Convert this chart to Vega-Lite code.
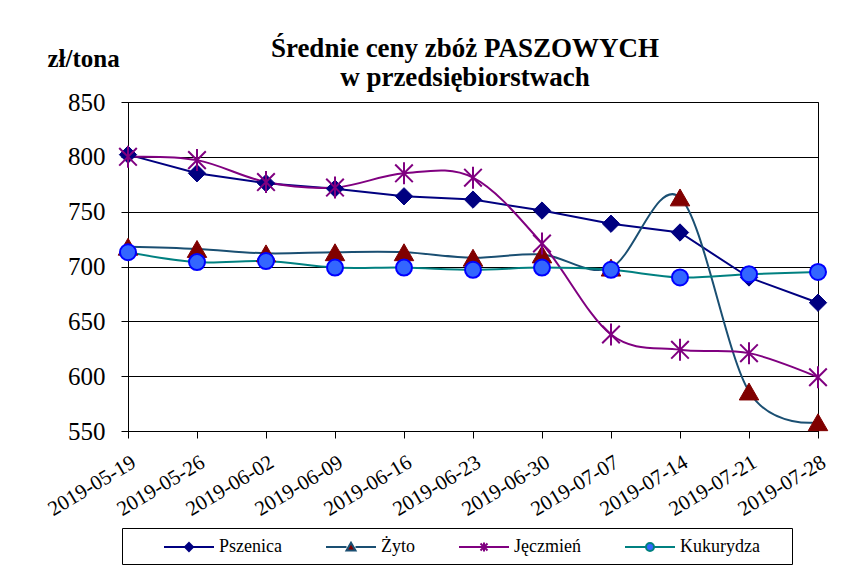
{
  "$schema": "https://vega.github.io/schema/vega-lite/v6.json",
  "width": 690,
  "height": 329,
  "autosize": {"type": "none"},
  "padding": {"left": 128, "top": 102, "right": 43, "bottom": 143},
  "background": "white",
  "config": {
    "view": {"stroke": "black", "strokeWidth": 1},
    "font": "Liberation Serif"
  },
  "title": {
    "text": ["Średnie ceny zbóż PASZOWYCH", "w przedsiębiorstwach"],
    "font": "Liberation Serif",
    "fontSize": 27,
    "fontWeight": "bold",
    "color": "black",
    "anchor": "middle",
    "frame": "group",
    "dx": -8,
    "dy": 56,
    "lineHeight": 29,
    "offset": 10
  },
  "data": {
    "values": [
      {"date": "2019-05-19", "series": "Pszenica", "value": 802},
      {"date": "2019-05-26", "series": "Pszenica", "value": 785},
      {"date": "2019-06-02", "series": "Pszenica", "value": 776},
      {"date": "2019-06-09", "series": "Pszenica", "value": 771},
      {"date": "2019-06-16", "series": "Pszenica", "value": 764},
      {"date": "2019-06-23", "series": "Pszenica", "value": 761},
      {"date": "2019-06-30", "series": "Pszenica", "value": 751},
      {"date": "2019-07-07", "series": "Pszenica", "value": 739},
      {"date": "2019-07-14", "series": "Pszenica", "value": 731},
      {"date": "2019-07-21", "series": "Pszenica", "value": 690},
      {"date": "2019-07-28", "series": "Pszenica", "value": 667},
      {"date": "2019-05-19", "series": "Żyto", "value": 718},
      {"date": "2019-05-26", "series": "Żyto", "value": 716},
      {"date": "2019-06-02", "series": "Żyto", "value": 712},
      {"date": "2019-06-09", "series": "Żyto", "value": 713},
      {"date": "2019-06-16", "series": "Żyto", "value": 713},
      {"date": "2019-06-23", "series": "Żyto", "value": 708},
      {"date": "2019-06-30", "series": "Żyto", "value": 711},
      {"date": "2019-07-07", "series": "Żyto", "value": 699},
      {"date": "2019-07-14", "series": "Żyto", "value": 763},
      {"date": "2019-07-21", "series": "Żyto", "value": 586},
      {"date": "2019-07-28", "series": "Żyto", "value": 558},
      {"date": "2019-05-19", "series": "Jęczmień", "value": 800},
      {"date": "2019-05-26", "series": "Jęczmień", "value": 797},
      {"date": "2019-06-02", "series": "Jęczmień", "value": 777},
      {"date": "2019-06-09", "series": "Jęczmień", "value": 772},
      {"date": "2019-06-16", "series": "Jęczmień", "value": 785},
      {"date": "2019-06-23", "series": "Jęczmień", "value": 781},
      {"date": "2019-06-30", "series": "Jęczmień", "value": 721},
      {"date": "2019-07-07", "series": "Jęczmień", "value": 638},
      {"date": "2019-07-14", "series": "Jęczmień", "value": 624},
      {"date": "2019-07-21", "series": "Jęczmień", "value": 621},
      {"date": "2019-07-28", "series": "Jęczmień", "value": 599},
      {"date": "2019-05-19", "series": "Kukurydza", "value": 713},
      {"date": "2019-05-26", "series": "Kukurydza", "value": 704},
      {"date": "2019-06-02", "series": "Kukurydza", "value": 705},
      {"date": "2019-06-09", "series": "Kukurydza", "value": 699},
      {"date": "2019-06-16", "series": "Kukurydza", "value": 699},
      {"date": "2019-06-23", "series": "Kukurydza", "value": 697},
      {"date": "2019-06-30", "series": "Kukurydza", "value": 699},
      {"date": "2019-07-07", "series": "Kukurydza", "value": 697},
      {"date": "2019-07-14", "series": "Kukurydza", "value": 690},
      {"date": "2019-07-21", "series": "Kukurydza", "value": 693},
      {"date": "2019-07-28", "series": "Kukurydza", "value": 695}
    ]
  },
  "encoding": {
    "x": {
      "field": "date",
      "type": "ordinal",
      "sort": null,
      "scale": {"type": "point", "padding": 0},
      "axis": {
        "title": null,
        "labelAngle": -31,
        "labelAlign": "right",
        "labelBaseline": "top",
        "labelFont": "Liberation Serif",
        "labelFontSize": 21,
        "labelColor": "black",
        "labelPadding": 13,
        "tickColor": "black",
        "tickSize": 7,
        "domainColor": "black",
        "grid": false
      }
    },
    "y": {
      "field": "value",
      "type": "quantitative",
      "scale": {"domain": [550, 850], "nice": false, "zero": false},
      "axis": {
        "values": [550, 600, 650, 700, 750, 800, 850],
        "title": "zł/tona",
        "titleAngle": 0,
        "titleAlign": "left",
        "titleBaseline": "alphabetic",
        "titleX": -81,
        "titleY": -36,
        "titleFont": "Liberation Serif",
        "titleFontSize": 25,
        "titleFontWeight": "bold",
        "titleColor": "black",
        "labelFont": "Liberation Serif",
        "labelFontSize": 25,
        "labelColor": "black",
        "labelPadding": 16,
        "tickColor": "black",
        "tickSize": 7,
        "domainColor": "black",
        "grid": true,
        "gridColor": "black",
        "gridOpacity": 1,
        "gridWidth": 1
      }
    }
  },
  "layer": [
    {
      "transform": [{"filter": "datum.series === 'Pszenica'"}],
      "mark": {"type": "line", "interpolate": "linear", "strokeWidth": 2},
      "encoding": {
        "stroke": {
          "field": "series",
          "type": "nominal",
          "scale": {
            "domain": ["Pszenica", "Żyto", "Jęczmień", "Kukurydza"],
            "range": ["#000080", "#1A4F72", "#800080", "#008080"]
          },
          "legend": {
            "orient": "none",
            "legendX": -6,
            "legendY": 426,
            "direction": "horizontal",
            "title": null,
            "strokeColor": "black",
            "padding": 8,
            "columnPadding": 10,
            "symbolSize": 400,
            "symbolStrokeWidth": 2,
            "labelOffset": 67,
            "labelFont": "Liberation Serif",
            "labelFontSize": 18,
            "labelColor": "black",
            "encode": {
              "symbols": {
                "update": {
                  "shape": {"signal": "datum.value === 'Pszenica' ? 'M2.3,0L7.3,0M4.8,-0.4L5.2,0L4.8,0.4L4.4,0Z' : datum.value === 'Żyto' ? 'M2.3,0L4.35,0M5.25,0L7.3,0M4.8,-0.42L5.25,0.35L4.35,0.35Z' : datum.value === 'Jęczmień' ? 'M2.3,0L7.3,0M4.45,-0.35L5.15,0.35M4.45,0.35L5.15,-0.35M4.8,-0.45L4.8,0.45' : 'M2.3,0L4.4,0M5.2,0L7.3,0M4.4,0A0.4,0.4 0 1,1 5.2,0A0.4,0.4 0 1,1 4.4,0ZM17.8,0L17.8,0'"},
                  "fill": {"signal": "datum.value === 'Pszenica' ? '#000080' : datum.value === 'Żyto' ? '#800000' : datum.value === 'Jęczmień' ? '#800080' : '#3366FF'"},
                  "strokeWidth": {"value": 2}
                }
              }
            }
          }
        }
      }
    },
    {
      "transform": [{"filter": "datum.series !== 'Pszenica'"}],
      "mark": {"type": "line", "interpolate": "cardinal", "strokeWidth": 2},
      "encoding": {
        "stroke": {"field": "series", "type": "nominal"}
      }
    },
    {
      "transform": [{"filter": "datum.series === 'Pszenica'"}],
      "mark": {"type": "point", "shape": "diamond", "filled": true, "fill": "#000080", "stroke": "#000080", "strokeWidth": 1, "size": 300, "opacity": 1}
    },
    {
      "transform": [{"filter": "datum.series === 'Żyto'"}],
      "mark": {"type": "point", "shape": "triangle-up", "filled": true, "fill": "#800000", "stroke": "#800000", "strokeWidth": 1, "size": 380, "opacity": 1}
    },
    {
      "transform": [{"filter": "datum.series === 'Jęczmień'"}],
      "mark": {"type": "point", "shape": "M-0.8,-0.8L0.8,0.8M-0.8,0.8L0.8,-0.8M0,-1L0,1", "filled": false, "stroke": "#800080", "strokeWidth": 2, "size": 484, "opacity": 1}
    },
    {
      "transform": [{"filter": "datum.series === 'Kukurydza'"}],
      "mark": {"type": "point", "shape": "circle", "filled": true, "fill": "#3366FF", "stroke": "#0000FF", "strokeWidth": 2, "size": 256, "opacity": 1}
    }
  ]
}
